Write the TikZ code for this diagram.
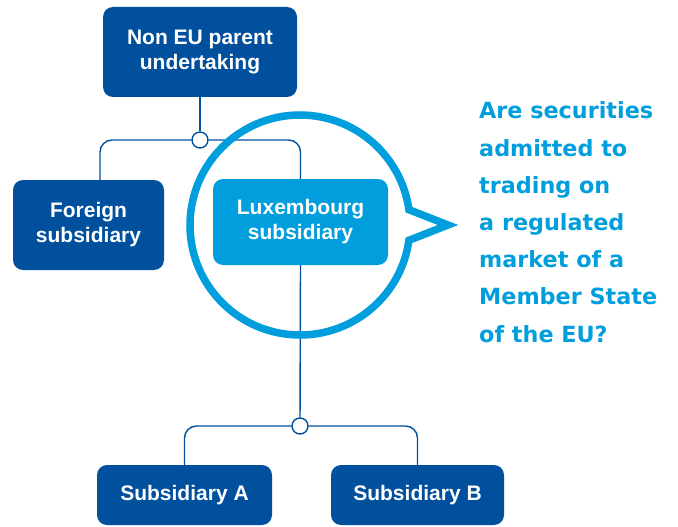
\documentclass[tikz,border=0pt]{standalone}
\usepackage{fontspec}
\setmainfont{Liberation Sans}
\newfontfamily\askfont{DejaVu Sans}
\definecolor{kdark}{RGB}{0,80,158}
\definecolor{klight}{RGB}{0,158,220}
\begin{document}
\begin{tikzpicture}[x=1pt,y=-1pt,
  entity/.style={fill=#1,text=white,rounded corners=10pt,inner sep=0pt,align=center,
    font=\bfseries\fontsize{21}{25}\selectfont},
  link/.style={draw=kdark,line width=1.4pt,rounded corners=12pt},
  joint/.style={circle,draw=kdark,fill=white,line width=1.4pt,minimum size=16pt,inner sep=0pt},
  bubble/.style={draw=klight,line width=7.5pt,miter limit=10}]
\useasboundingbox (0,0) rectangle (678,527);
% boxes
\node[entity=kdark,minimum width=194pt,minimum height=90pt] (parent) at (200,52) {Non EU parent\\undertaking};
\node[entity=kdark,minimum width=151pt,minimum height=90pt] (foreign) at (88.5,225) {Foreign\\subsidiary};
\node[entity=klight,minimum width=175pt,minimum height=86pt] (lux) at (300.5,222) {Luxembourg\\subsidiary};
\node[entity=kdark,minimum width=175pt,minimum height=60pt] (suba) at (184.5,495) {Subsidiary A};
\node[entity=kdark,minimum width=173pt,minimum height=60pt] (subb) at (417.5,495) {Subsidiary B};
% junctions
\node[joint] (j1) at (200,140) {};
\node[joint] (j2) at (300,426) {};
\coordinate (fdrop) at (100,180);
% tree lines
\draw[link] (parent.south) -- (j1);
\draw[link] (fdrop) |- (j1);
\draw[link] (lux.north) |- (j1);
\draw[link] (lux.south) -- (j2);
\draw[link] (suba.north) |- (j2);
\draw[link] (subb.north) |- (j2);
% speech bubble
\coordinate (ring) at (300,225);
\coordinate (tip) at (448,225);
\draw[bubble] ([shift={(8:110)}]ring) arc[start angle=8,end angle=352,radius=110] -- (tip) -- cycle;
\node[anchor=base west,inner sep=0pt,align=left,text=klight,
  font=\askfont\bfseries\fontsize{22.3}{37.2}\selectfont] (question) at (479,342)
  {Are securities\\admitted to\\trading on\\a regulated\\market of a\\Member State\\of the EU?};
\end{tikzpicture}
\end{document}
